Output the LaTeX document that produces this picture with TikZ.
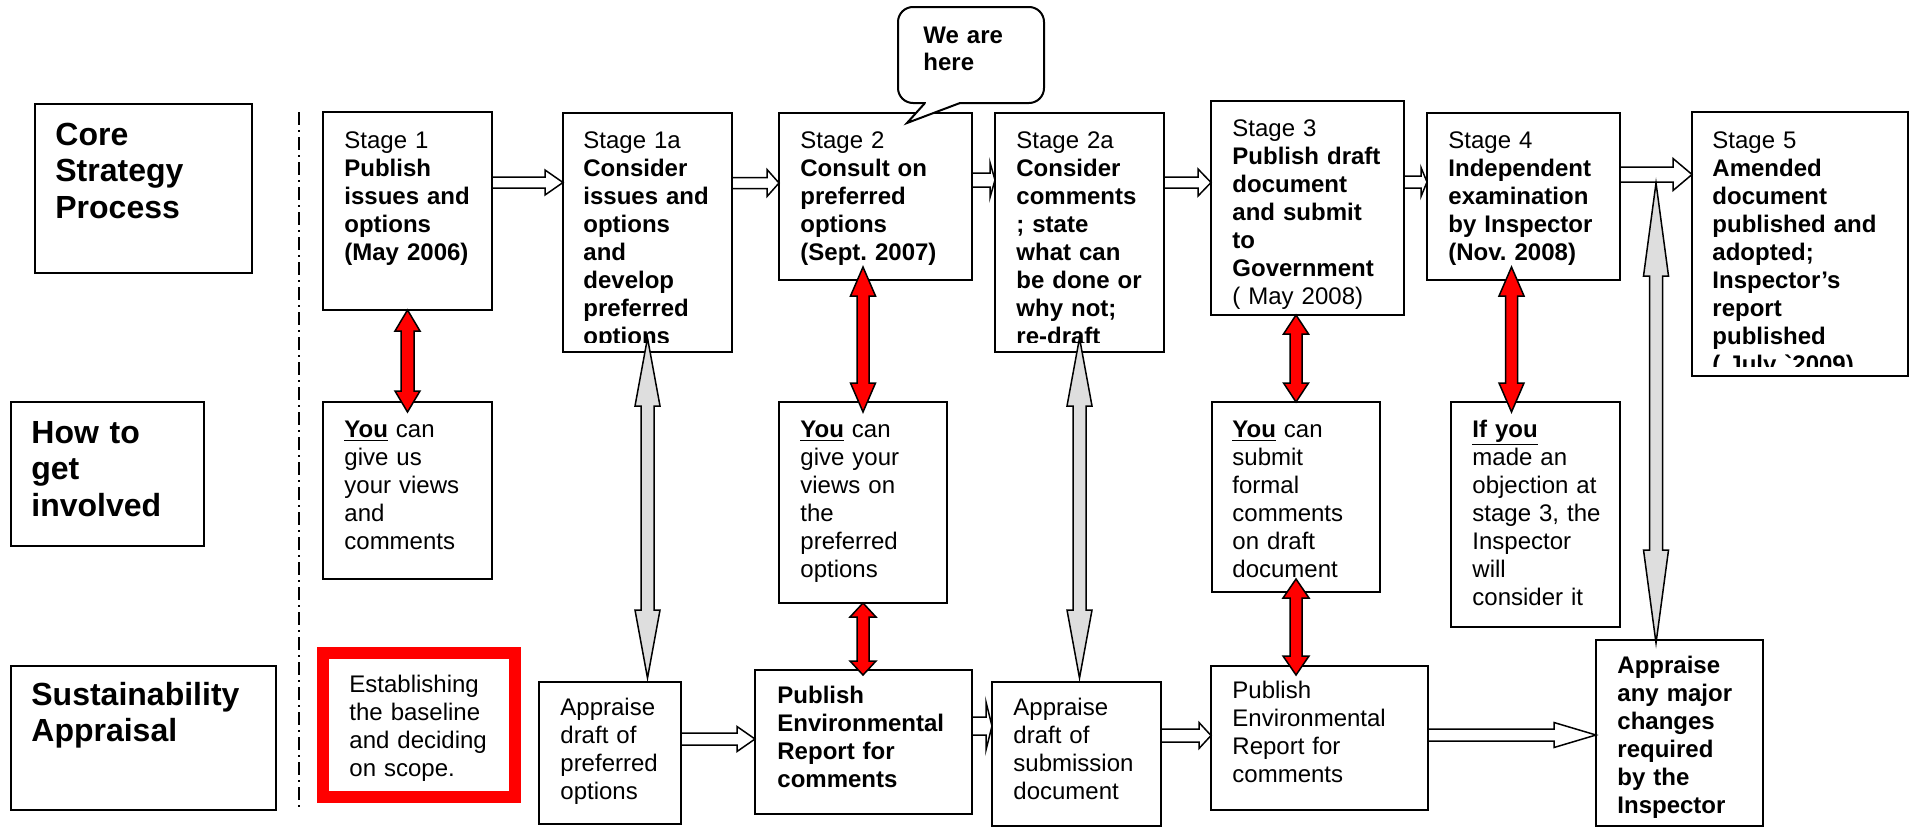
\documentclass[tikz,border=0pt]{standalone}
\usepackage{fontspec}
\setmainfont{Liberation Sans}
\frenchspacing
\usetikzlibrary{calc}

\tikzset{
  box/.style={draw, line width=1pt, rectangle, inner sep=0pt, outer sep=0pt, anchor=north west},
  txt/.style={anchor=base west, inner sep=0pt, text width=125pt, align=left, font=\fontsize{12}{14}\selectfont},
  rowtxt/.style={txt, font=\fontsize{16}{18.4}\selectfont\bfseries},
  hollow/.style={draw, fill=white, line width=0.75pt},
  redarrow/.style={draw, fill=red, line width=0.75pt},
  greyarrow/.style={draw, fill=black!13, line width=0.75pt}
}

% block arrow to the right: style, from, to, y, shaft half, head half, head length
\newcommand\harrow[7]{%
  \draw[#1] ($(#2.east |- 0,#4)+(0,-#5)$) -- ($(#3.west |- 0,#4)+(-#7,-#5)$)
    -- ($(#3.west |- 0,#4)+(-#7,-#6)$) -- (#3.west |- 0,#4)
    -- ($(#3.west |- 0,#4)+(-#7,#6)$) -- ($(#3.west |- 0,#4)+(-#7,#5)$)
    -- ($(#2.east |- 0,#4)+(0,#5)$) -- cycle;}
% double block arrow, up and down: style, top tip, bottom tip, shaft half, head half, head length
\newcommand\vdarrow[6]{%
  \draw[#1] (#2) -- ($(#2)+(#5,#6)$) -- ($(#2)+(#4,#6)$) -- ($(#3)+(#4,-#6)$)
    -- ($(#3)+(#5,-#6)$) -- (#3) -- ($(#3)+(-#5,-#6)$) -- ($(#3)+(-#4,-#6)$)
    -- ($(#2)+(-#4,#6)$) -- ($(#2)+(-#5,#6)$) -- cycle;}
% thicker underline
\newcommand\youline[1]{\underline{\textbf{#1}}}

\begin{document}
\begin{tikzpicture}[x=0.5pt, y=-0.5pt]
\useasboundingbox (0,0) rectangle (1914,830);

% row labels
\node[box, minimum width=108.5pt, minimum height=84.5pt] (core) at (35,104) {};
\node[box, minimum width=96.5pt, minimum height=72pt] (how) at (11,402) {};
\node[box, minimum width=132.5pt, minimum height=72pt] (sus) at (11,666) {};
\node[rowtxt] (coret) at (55,145) {Core\\Strategy\\Process};
\node[rowtxt] (howt) at (31,443) {How to\\get\\involved};
\node[rowtxt] (sust) at (31,705) {Sustainability\\Appraisal};

\draw[line width=1.2pt, dash pattern=on 6.5pt off 2.5pt on 1pt off 2.5pt] (299,112) -- (299,807);

% stages
\node[box, minimum width=84.5pt, minimum height=99pt] (s1) at (323,112) {};
\node[box, minimum width=84.5pt, minimum height=119.5pt] (s1a) at (563,113) {};
\node[box, minimum width=96.5pt, minimum height=83.5pt] (s2) at (779,113) {};
\node[box, minimum width=84.5pt, minimum height=119.5pt] (s2a) at (995,113) {};
\node[box, minimum width=96.5pt, minimum height=107pt] (s3) at (1211,101) {};
\node[box, minimum width=96.5pt, minimum height=83.5pt] (s4) at (1427,113) {};
\node[box, minimum width=108pt, minimum height=132pt] (s5) at (1692,112) {};

\node[txt] (s1t) at (344,148) {Stage 1\\\bfseries Publish\\issues and\\options\\(May 2006)};
\begin{scope}
  \clip (s1a.north west) rectangle ($(s1a.south east)+(0,-10)$);
  \node[txt] (s1at) at (583,148) {Stage 1a\\\bfseries Consider\\issues and\\options\\and\\develop\\preferred\\options};
\end{scope}
\node[txt] (s2t) at (800,148) {Stage 2\\\bfseries Consult on\\preferred\\options\\(Sept. 2007)};
\begin{scope}
  \clip (s2a.north west) rectangle ($(s2a.south east)+(0,-10)$);
  \node[txt] (s2at) at (1016,148) {Stage 2a\\\bfseries Consider\\comments\\; state\\what can\\be done or\\why not;\\re-draft};
\end{scope}
\node[txt] (s3t) at (1232,136) {Stage 3\\\bfseries Publish draft\\document\\and submit\\to\\Government\\\mdseries ( May 2008)};
\node[txt] (s4t) at (1448,148) {Stage 4\\\bfseries Independent\\examination\\by Inspector\\(Nov. 2008)};
\begin{scope}
  \clip (s5.north west) rectangle ($(s5.south east)+(0,-10)$);
  \node[txt] (s5t) at (1712,148) {Stage 5\\\bfseries Amended\\document\\published and\\adopted;\\Inspector's\\report\\published\\( July \textasciigrave 2009)};
\end{scope}

% callout
\node[box, rounded corners=7.5pt, minimum width=73pt, minimum height=48pt] (bubble) at (898,7) {};
\fill[white] (926,100) rectangle (959,105);
\draw[line width=1pt, fill=white] (925,103) -- (907,123) -- (960,103);
\node[txt, font=\fontsize{12}{13.5}\selectfont\bfseries] (heret) at (923,43) {We are\\here};

% how to get involved
\node[box, minimum width=84.5pt, minimum height=88.5pt] (y1) at (323,402) {};
\node[box, minimum width=84pt, minimum height=100.5pt] (y2) at (779,402) {};
\node[box, minimum width=84pt, minimum height=95pt] (y3) at (1212,402) {};
\node[box, minimum width=84.5pt, minimum height=112.5pt] (ifyou) at (1451,402) {};
\node[txt] (y1t) at (344,437) {\youline{You} can\\give us\\your views\\and\\comments};
\node[txt] (y2t) at (800,437) {\youline{You} can\\give your\\views on\\the\\preferred\\options};
\node[txt] (y3t) at (1232,437) {\youline{You} can\\submit\\formal\\comments\\on draft\\document};
\node[txt] (ifyout) at (1472,437) {\youline{If you}\\made an\\objection at\\stage 3, the\\Inspector\\will\\consider it};

% sustainability appraisal
\node[box, draw=red, line width=6pt, minimum width=96pt, minimum height=72pt] (est) at (323,653) {};
\node[box, minimum width=71pt, minimum height=71pt] (ap1) at (539,682) {};
\node[box, minimum width=108.5pt, minimum height=72pt] (er1) at (755,670) {};
\node[box, minimum width=84.5pt, minimum height=72pt] (ap2) at (992,682) {};
\node[box, minimum width=108.5pt, minimum height=72pt] (er2) at (1211,666) {};
\node[box, minimum width=83.5pt, minimum height=93pt] (am) at (1596,640) {};
\node[txt] (estt) at (349,692) {Establishing\\the baseline\\and deciding\\on scope.};
\node[txt] (ap1t) at (560,715) {Appraise\\draft of\\preferred\\options};
\node[txt] (er1t) at (777,703) {\bfseries Publish\\Environmental\\Report for\\comments};
\node[txt] (ap2t) at (1013,715) {Appraise\\draft of\\submission\\document};
\node[txt] (er2t) at (1232,698) {Publish\\Environmental\\Report for\\comments};
\node[txt] (amt) at (1617,673) {\bfseries Appraise\\any major\\changes\\required\\by the\\Inspector};

% arrows along the rows
\harrow{hollow}{s1}{s1a}{182.5}{5.5}{12.5}{18}
\harrow{hollow}{s1a}{s2}{183}{5.5}{13.5}{12}
\harrow{hollow}{s2}{s2a}{180}{7}{17.5}{5}
\harrow{hollow}{s2a}{s3}{182.5}{5.5}{13.5}{13}
\harrow{hollow}{s3}{s4}{182}{6}{14.5}{6}
\harrow{hollow}{s4}{s5}{174.5}{7.5}{16}{19}
\harrow{hollow}{ap1}{er1}{739}{6}{12.5}{18}
\harrow{hollow}{er1}{ap2}{726}{9}{24}{6}
\harrow{hollow}{ap2}{er2}{735.5}{6.5}{13}{12}
\harrow{hollow}{er2}{am}{735}{6}{12.5}{42}

% arrows between the rows
\coordinate (r1a) at (s1.south);
\coordinate (r1b) at ($(y1.north)+(0,10)$);
\coordinate (r2a) at ($(y2.north |- s2.south)+(0,-13)$);
\coordinate (r2b) at ($(y2.north)+(0,10)$);
\coordinate (r3a) at (y3.north |- s3.south);
\coordinate (r3b) at (y3.north);
\coordinate (r4a) at ($(s4.south)+(-12,-13)$);
\coordinate (r4b) at ($(s4.south |- ifyou.north)+(-12,10)$);
\coordinate (r5a) at (y2.south);
\coordinate (r5b) at ($(y2.south |- er1.north)+(0,5)$);
\coordinate (r6a) at ($(y3.south)+(0,-13)$);
\coordinate (r6b) at ($(y3.south |- er2.north)+(0,9)$);
\vdarrow{redarrow}{r1a}{r1b}{6.5}{12.5}{21}
\vdarrow{redarrow}{r2a}{r2b}{6}{12.5}{29}
\vdarrow{redarrow}{r3a}{r3b}{6}{12.5}{19}
\vdarrow{redarrow}{r4a}{r4b}{6}{12.5}{29}
\vdarrow{redarrow}{r5a}{r5b}{6}{13}{14}
\vdarrow{redarrow}{r6a}{r6b}{6}{13}{19}

\coordinate (g1a) at ($(s1a.south)+(0,-14)$);
\coordinate (g1b) at ($(s1a.south |- ap1.north)+(0,-4)$);
\coordinate (g2a) at ($(s2a.south)+(0,-14)$);
\coordinate (g2b) at ($(s2a.south |- ap2.north)+(0,-4)$);
\coordinate (g3a) at ($(am.north |- s5.north)+(-23.5,71)$);
\coordinate (g3b) at ($(am.north)+(-23.5,3)$);
\vdarrow{greyarrow}{g1a}{g1b}{6.5}{12.5}{68}
\vdarrow{greyarrow}{g2a}{g2b}{6.5}{12.5}{68}
\vdarrow{greyarrow}{g3a}{g3b}{6.5}{12.5}{93}

\end{tikzpicture}
\end{document}
